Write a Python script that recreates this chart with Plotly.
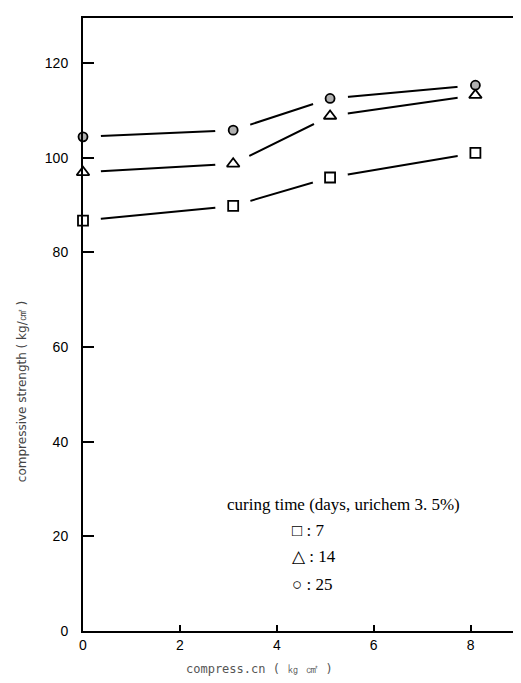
import plotly.graph_objects as go

# Data
x_vals = [0, 3.1, 5.1, 8.1]
days7 = [86.7, 89.8, 95.8, 101.0]
days14 = [96.9, 98.7, 108.8, 113.2]
days25 = [104.4, 105.8, 112.5, 115.3]

x_ticks = [0, 2, 4, 6, 8]
y_ticks = [0, 20, 40, 60, 80, 100, 120]

series = [
    ("7", days7, "square", "white", 10),
    ("14", days14, "triangle-up", "white", 11),
    ("25", days25, "circle", "#b0b0b0", 9),
]

fig = go.Figure()
for name, ys, sym, fill, size in series:
    # line with white halo markers to leave gaps around the points
    fig.add_trace(go.Scatter(x=x_vals, y=ys, mode="lines+markers",
                             line=dict(color="black", width=2),
                             marker=dict(symbol="circle", size=36, color="white",
                                         line=dict(width=0)),
                             cliponaxis=True, showlegend=False))
for name, ys, sym, fill, size in series:
    fig.add_trace(go.Scatter(x=x_vals, y=ys, mode="markers", name=name,
                             marker=dict(symbol=sym, size=size, color=fill,
                                         line=dict(color="black", width=1.8)),
                             cliponaxis=False, showlegend=False))

fig.update_xaxes(range=[0, 9.0], tickvals=x_ticks, ticktext=[str(v) for v in x_ticks],
                 ticks="inside", ticklen=6, tickwidth=1.5, tickcolor="black",
                 showline=True, linecolor="black", linewidth=2, mirror=True,
                 showgrid=False, zeroline=False,
                 tickfont=dict(family="Liberation Sans", size=14, color="black"))
fig.update_yaxes(range=[0, 129.5], tickvals=y_ticks, ticktext=[str(v) for v in y_ticks],
                 ticks="inside", ticklen=11, tickwidth=2, tickcolor="black",
                 showline=True, linecolor="black", linewidth=2, mirror=True,
                 showgrid=False, zeroline=False, ticklabelstandoff=10,
                 tickfont=dict(family="Liberation Sans", size=14, color="black"))

annotations = [
    dict(text="curing time (days, urichem 3. 5%)", x=0.325, y=0.187, xanchor="left",
         font=dict(family="Liberation Serif", size=17, color="black")),
    dict(text="\u25a1 : 7", x=0.475, y=0.146, xanchor="left",
         font=dict(family="Liberation Serif", size=17, color="black")),
    dict(text="\u25b3 : 14", x=0.475, y=0.102, xanchor="left",
         font=dict(family="Liberation Serif", size=17, color="black")),
    dict(text="\u25cb : 25", x=0.475, y=0.057, xanchor="left",
         font=dict(family="Liberation Serif", size=17, color="black")),
    dict(text="compressive strength ( kg/㎠ )", x=-0.16, y=0.39, textangle=-90,
         font=dict(family="DejaVu Sans", size=12, color="#444444")),
    dict(text="compress.cn ( ㎏ ㎠ )", x=0.405, y=-0.077,
         font=dict(family="DejaVu Sans Mono", size=12, color="#555555")),
]
for a in annotations:
    a.update(xref="paper", yref="paper", showarrow=False)

fig.update_layout(width=521, height=683,
                  margin=dict(l=75, r=9, t=8, b=60),
                  paper_bgcolor="white", plot_bgcolor="white",
                  annotations=annotations, showlegend=False, hovermode=False)

fig.write_html("out.html")
